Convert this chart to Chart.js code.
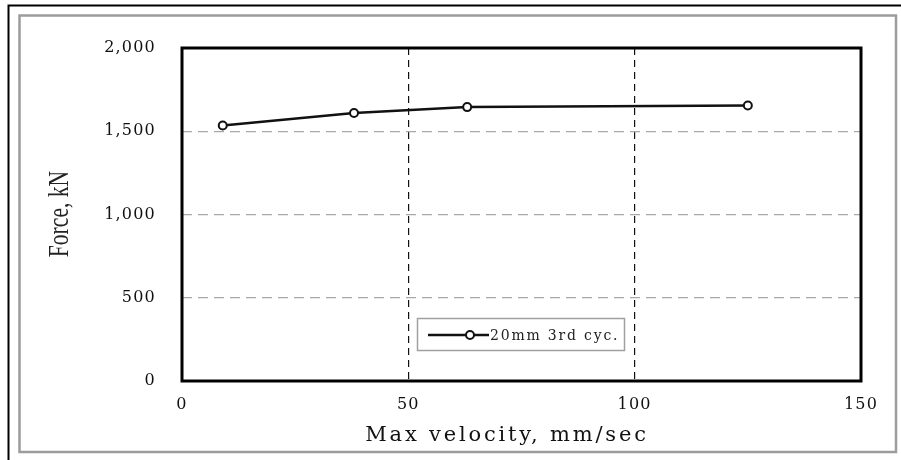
<!DOCTYPE html>
<html>
<head>
<meta charset="utf-8">
<script src="https://cdn.jsdelivr.net/npm/chart.js@4"></script>
<style>
  html, body { margin: 0; padding: 0; background: #fff; overflow: hidden; }
  canvas { display: block; }
</style>
</head>
<body>
<canvas id="forceChart" width="901" height="460"></canvas>
<script>
// measured peak force per test velocity
const velocity = [9, 38, 63, 125];
const force = [1535, 1610, 1645, 1655];
const seriesLabel = '20mm 3rd cyc.';

const xTicks = [0, 50, 100, 150];
const yTicks = [0, 500, 1000, 1500, 2000];
const yTickLabels = ['0', '500', '1,000', '1,500', '2,000'];
const xTitle = 'Max velocity, mm/sec';
const yTitle = 'Force, kN';

const serif = "'DejaVu Serif', serif";
const clear = 'rgba(0,0,0,0)';

// page frames, plot box, axis titles and the boxed legend
const decorations = {
  id: 'decorations',
  beforeDraw(chart) {
    const ctx = chart.ctx;
    ctx.save();
    ctx.fillStyle = '#fff';
    ctx.fillRect(0, 0, chart.width, chart.height);
    ctx.strokeStyle = '#000';
    ctx.lineWidth = 2;
    ctx.beginPath();
    ctx.moveTo(8.5, chart.height);
    ctx.lineTo(8.5, 5.5);
    ctx.lineTo(chart.width, 5.5);
    ctx.stroke();
    ctx.strokeStyle = '#9c9c9c';
    ctx.lineWidth = 2.5;
    ctx.strokeRect(19.5, 15.5, 876.5, 436.5);
    ctx.restore();
    ctx.letterSpacing = '1.2px';
  },
  beforeDatasetsDraw(chart) {
    const ctx = chart.ctx;
    const a = chart.chartArea;
    ctx.letterSpacing = '0px';
    ctx.save();
    ctx.strokeStyle = '#000';
    ctx.lineWidth = 3;
    ctx.strokeRect(a.left, a.top, a.right - a.left, a.bottom - a.top);
    ctx.restore();
  },
  afterDraw(chart) {
    const ctx = chart.ctx;
    const ds = chart.data.datasets[0];
    ctx.save();

    // x axis title
    ctx.fillStyle = '#111';
    ctx.font = '21px ' + serif;
    ctx.letterSpacing = '2.8px';
    ctx.textAlign = 'center';
    ctx.textBaseline = 'alphabetic';
    ctx.fillText(xTitle, 507, 441);

    // y axis title, tall and narrow
    ctx.letterSpacing = '0px';
    ctx.save();
    ctx.translate(68, 214);
    ctx.rotate(-Math.PI / 2);
    ctx.scale(0.72, 1);
    ctx.font = "30px 'Liberation Serif', serif";
    ctx.fillStyle = '#222';
    ctx.fillText(yTitle, 0, 0);
    ctx.restore();

    // legend box
    ctx.strokeStyle = '#a0a0a0';
    ctx.lineWidth = 1.5;
    ctx.strokeRect(417.5, 318.5, 207, 32);
    ctx.strokeStyle = ds.borderColor;
    ctx.lineWidth = ds.borderWidth;
    ctx.beginPath();
    ctx.moveTo(428, 335);
    ctx.lineTo(489, 335);
    ctx.stroke();
    ctx.beginPath();
    ctx.arc(470, 335, ds.pointRadius, 0, Math.PI * 2);
    ctx.fillStyle = ds.pointBackgroundColor;
    ctx.fill();
    ctx.lineWidth = ds.pointBorderWidth;
    ctx.strokeStyle = ds.pointBorderColor;
    ctx.stroke();
    ctx.fillStyle = '#222';
    ctx.font = '14px ' + serif;
    ctx.letterSpacing = '1.8px';
    ctx.textAlign = 'left';
    ctx.textBaseline = 'middle';
    ctx.fillText(ds.label, 490, 336);
    ctx.restore();
  }
};

new Chart(document.getElementById('forceChart'), {
  type: 'line',
  data: {
    datasets: [{
      label: seriesLabel,
      data: velocity.map((v, i) => ({ x: v, y: force[i] })),
      borderColor: '#111',
      borderWidth: 2.5,
      pointRadius: 4,
      pointBorderWidth: 2,
      pointBackgroundColor: '#fff',
      pointBorderColor: '#111',
      tension: 0
    }]
  },
  options: {
    responsive: false,
    animation: false,
    layout: { padding: { top: 48, right: 40, left: 0, bottom: 0 } },
    plugins: {
      legend: { display: false },
      tooltip: { enabled: false }
    },
    scales: {
      x: {
        type: 'linear',
        min: 0,
        max: 150,
        afterBuildTicks: (s) => { s.ticks = xTicks.map((v) => ({ value: v })); },
        afterFit: (s) => { s.height = 79; },
        grid: {
          color: (c) => (c.tick && (c.tick.value === 50 || c.tick.value === 100)) ? '#111' : clear,
          lineWidth: 1.2,
          drawTicks: false
        },
        border: { display: false, dash: [7, 5] },
        ticks: {
          font: { family: serif, size: 16 },
          color: '#111',
          padding: 14,
          maxRotation: 0
        }
      },
      y: {
        min: 0,
        max: 2000,
        afterBuildTicks: (s) => { s.ticks = yTicks.map((v) => ({ value: v })); },
        afterFit: (s) => { s.width = 182; },
        grid: {
          color: (c) => (c.tick && c.tick.value > 0 && c.tick.value < 2000) ? '#a8a8a8' : clear,
          lineWidth: 1.2,
          drawTicks: false
        },
        border: { display: false, dash: [10, 6] },
        ticks: {
          font: { family: serif, size: 16 },
          color: '#111',
          padding: 26,
          callback: (v) => yTickLabels[yTicks.indexOf(v)]
        }
      }
    }
  },
  plugins: [decorations]
});
</script>
</body>
</html>
